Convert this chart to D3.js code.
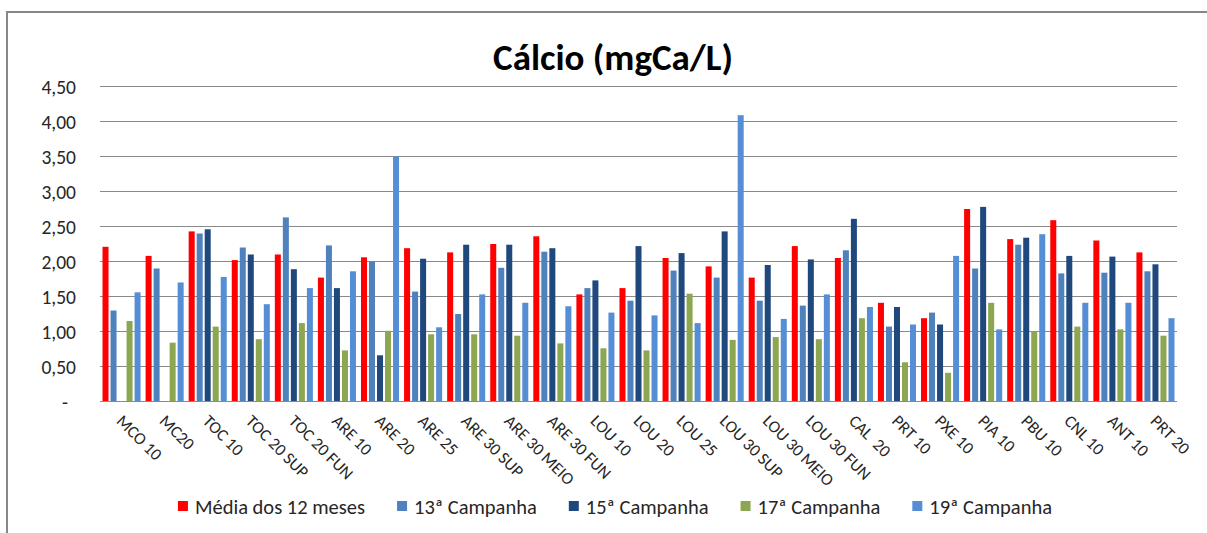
<!DOCTYPE html>
<html>

<head>
    <meta charset="utf-8">
    <script src="https://cdnjs.cloudflare.com/ajax/libs/d3/7.8.5/d3.min.js"></script>
    <title>Cálcio (mgCa/L)</title>
    <style>
        body { margin: 0; background: #fff; }
        text { font-family: Carlito, Lato, "Noto Sans", sans-serif; fill: #262626; }
    </style>
</head>

<body>
    <div id="graph"></div>

    <script>

        // data
        var categories = ["MCO 10", "MC20", "TOC 10", "TOC 20 SUP", "TOC 20 FUN", "ARE 10", "ARE 20", "ARE 25",
            "ARE 30 SUP", "ARE 30 MEIO", "ARE 30 FUN", "LOU 10", "LOU 20", "LOU 25", "LOU 30 SUP", "LOU 30 MEIO",
            "LOU 30 FUN", "CAL  20", "PRT 10", "PXE 10", "PIA 10", "PBU 10", "CNL 10", "ANT 10", "PRT 20"];

        var seriesNames = ["Média dos 12 meses", "13ª Campanha", "15ª Campanha", "17ª Campanha", "19ª Campanha"];

        var media12 = [2.21, 2.08, 2.43, 2.02, 2.10, 1.77, 2.06, 2.19, 2.13, 2.25, 2.36, 1.53, 1.62, 2.05, 1.93, 1.77, 2.22, 2.05, 1.41, 1.19, 2.75, 2.32, 2.59, 2.30, 2.13];
        var camp13 = [1.30, 1.90, 2.40, 2.20, 2.63, 2.23, 2.00, 1.57, 1.25, 1.91, 2.14, 1.62, 1.44, 1.87, 1.77, 1.44, 1.37, 2.16, 1.07, 1.27, 1.90, 2.24, 1.83, 1.84, 1.86];
        var camp15 = [null, null, 2.46, 2.10, 1.89, 1.62, 0.66, 2.04, 2.24, 2.24, 2.19, 1.73, 2.22, 2.12, 2.43, 1.95, 2.03, 2.61, 1.35, 1.10, 2.78, 2.34, 2.08, 2.07, 1.96];
        var camp17 = [1.15, 0.84, 1.07, 0.89, 1.12, 0.73, 1.01, 0.96, 0.96, 0.94, 0.83, 0.76, 0.73, 1.54, 0.88, 0.92, 0.89, 1.19, 0.56, 0.41, 1.41, 1.00, 1.07, 1.03, 0.94];
        var camp19 = [1.56, 1.70, 1.78, 1.39, 1.62, 1.86, 3.50, 1.06, 1.53, 1.41, 1.36, 1.27, 1.23, 1.12, 4.09, 1.18, 1.53, 1.35, 1.10, 2.08, 1.03, 2.39, 1.41, 1.41, 1.19];

        var yTicks = [0, 0.5, 1, 1.5, 2, 2.5, 3, 3.5, 4, 4.5];

        var seriesValues = [media12, camp13, camp15, camp17, camp19];
        var colors = ["#FF0000", "#4F81BD", "#1F497D", "#8CA652", "#558ED5"];

        var width = 1207, height = 533;

        var svg = d3.select("#graph")
            .append("svg")
            .attr("width", width)
            .attr("height", height);

        // chart frame (only top and left edges are visible in the picture)
        svg.append("path")
            .attr("d", "M7,533 V12 H1207")
            .attr("fill", "none")
            .attr("stroke", "#878787")
            .attr("stroke-width", 2);

        // scales
        var x0 = d3.scaleBand()
            .domain(categories)
            .range([100, 1177])
            .paddingInner(0.07)
            .paddingOuter(0.035);

        var x1 = d3.scaleBand()
            .domain(d3.range(seriesNames.length))
            .range([0, x0.bandwidth()]);

        var y = d3.scaleLinear()
            .domain([0, 4.5])
            .range([401.5, 86.5]);

        // gridlines
        svg.append("g")
            .selectAll("line")
            .data(yTicks)
            .enter()
            .append("line")
            .attr("x1", 100)
            .attr("x2", 1177)
            .attr("y1", function (d) { return y(d); })
            .attr("y2", function (d) { return y(d); })
            .attr("stroke", "#8a8a8a")
            .attr("stroke-width", 1);

        // y tick labels, zero shown as a dash
        svg.append("g")
            .selectAll("text")
            .data(yTicks)
            .enter()
            .append("text")
            .attr("x", function (d) { return d == 0 ? 68 : 76; })
            .attr("y", function (d) { return y(d) + 7; })
            .attr("text-anchor", "end")
            .attr("font-size", "19.5px")
            .text(function (d) { return d == 0 ? "-" : d3.format(".2f")(d).replace(".", ","); });

        // bars
        var rows = [];
        categories.forEach(function (c, i) {
            seriesValues.forEach(function (vals, s) {
                if (vals[i] != null) rows.push({ cat: c, s: s, v: vals[i] });
            });
        });

        svg.append("g")
            .selectAll("rect")
            .data(rows)
            .enter()
            .append("rect")
            .attr("x", function (d) { return x0(d.cat) + x1(d.s) + 1; })
            .attr("y", function (d) { return y(d.v); })
            .attr("width", x1.bandwidth() - 2)
            .attr("height", function (d) { return y(0) - y(d.v); })
            .attr("fill", function (d) { return colors[d.s]; });

        // baseline on top of bars
        svg.append("line")
            .attr("x1", 100).attr("x2", 1177)
            .attr("y1", y(0)).attr("y2", y(0))
            .attr("stroke", "#8a8a8a");

        // category labels, rotated 45deg
        svg.append("g")
            .selectAll("text")
            .data(categories)
            .enter()
            .append("text")
            .attr("transform", function (d) {
                var cx = x0(d) + x0.bandwidth() / 2 - 6;
                return "translate(" + cx + ",422) rotate(45)";
            })
            .attr("font-size", "17px")
            .style("white-space", "pre")
            .text(function (d) { return d; });

        // title
        svg.append("text")
            .attr("x", 613)
            .attr("y", 70)
            .attr("text-anchor", "middle")
            .attr("font-size", "37px")
            .attr("font-weight", "bold")
            .style("fill", "#000")
            .text("Cálcio (mgCa/L)");

        // legend
        var legend = svg.append("g");
        var lx = 0;
        seriesNames.forEach(function (name, i) {
            var item = legend.append("g").attr("transform", "translate(" + lx + ",0)");
            item.append("rect")
                .attr("x", 0).attr("y", 501)
                .attr("width", 10).attr("height", 10)
                .attr("fill", colors[i]);
            var t = item.append("text")
                .attr("x", 17).attr("y", 514)
                .attr("font-size", "20.5px")
                .text(name);
            lx += 17 + t.node().getComputedTextLength() + 32;
        });
        lx -= 32;
        legend.attr("transform", "translate(" + (615 - lx / 2) + ",0)");

    </script>

</body>

</html>
